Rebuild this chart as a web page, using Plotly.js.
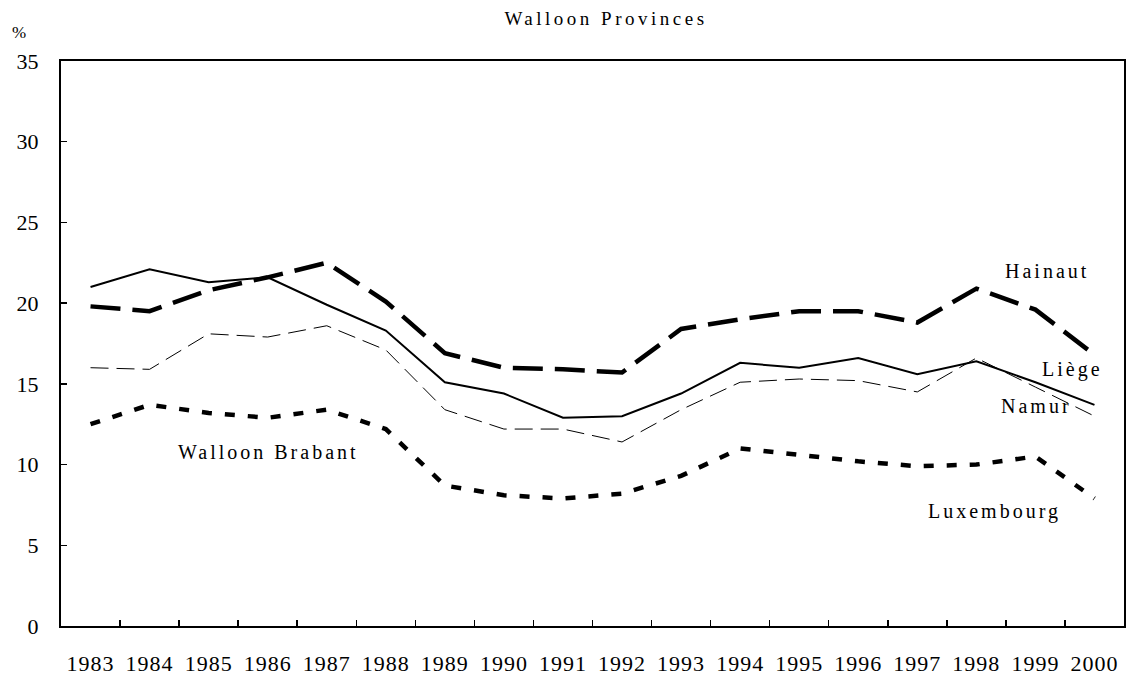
<!DOCTYPE html>
<html>
<head>
<meta charset="utf-8">
<script src="https://cdn.plot.ly/plotly-3.0.1.min.js"></script>
<style>
  html, body { margin: 0; padding: 0; background: #fff; }
  #chart { width: 1129px; height: 677px; }
  .annotation-text { letter-spacing: 3px; }
  .gtitle { letter-spacing: 3.5px; }
  .xtick text { letter-spacing: 1px; }
</style>
</head>
<body>
<div id="chart"></div>
<script>
const years = ['1983','1984','1985','1986','1987','1988','1989','1990','1991','1992','1993','1994','1995','1996','1997','1998','1999','2000'];
const hainaut = [19.8,19.5,20.8,21.6,22.5,20.1,16.9,16.0,15.9,15.7,18.4,19.0,19.5,19.5,18.8,20.9,19.6,16.8];
const liege   = [21.0,22.1,21.3,21.6,19.9,18.3,15.1,14.4,12.9,13.0,14.4,16.3,16.0,16.6,15.6,16.4,15.1,13.7];
const namur   = [16.0,15.9,18.1,17.9,18.6,17.1,13.4,12.2,12.2,11.4,13.4,15.1,15.3,15.2,14.5,16.6,14.8,13.0];
const brabantLux = [12.5,13.7,13.2,12.9,13.4,12.2,8.7,8.1,7.9,8.2,9.3,11.0,10.6,10.2,9.9,10.0,10.5,7.9];
const yTicks = [0,5,10,15,20,25,30,35];

const font = '"Liberation Serif", "Times New Roman", serif';

const traces = [
  {x: years, y: hainaut, name: 'Hainaut', mode: 'lines', line: {color: '#000', width: 4.5, dash: '30px,12px'}},
  {x: years, y: liege, name: 'Liège', mode: 'lines', line: {color: '#000', width: 2}},
  {x: years, y: namur, name: 'Namur', mode: 'lines', line: {color: '#000', width: 1, dash: '18px,8px'}},
  {x: years, y: brabantLux, name: 'Walloon Brabant / Luxembourg', mode: 'lines', line: {color: '#000', width: 4.5, dash: '10px,13px'}}
];

function px2paper(px) { return (px - 61) / (1124 - 61); }

const annFont = {family: font, size: 20, color: '#000'};

const layout = {
  width: 1129, height: 677,
  margin: {l: 61, r: 5, t: 61, b: 51},
  paper_bgcolor: '#fff', plot_bgcolor: '#fff',
  showlegend: false,
  font: {family: font, color: '#000', size: 20},
  title: {text: 'Walloon Provinces', font: {family: font, size: 19, color: '#000'},
          xref: 'paper', x: px2paper(606), xanchor: 'center',
          yref: 'container', y: 1 - 18/677, yanchor: 'middle'},
  xaxis: {
    type: 'category', range: [-0.5, 17.5],
    showline: true, linecolor: '#000', linewidth: 2, mirror: true,
    ticks: 'inside', ticklen: 6, tickwidth: 1.5, tickcolor: '#000',
    tickson: 'boundaries', showgrid: false, zeroline: false,
    tickfont: {family: font, size: 22, color: '#000'},
    ticklabelstandoff: 17, fixedrange: true
  },
  yaxis: {
    range: [0, 35], tickvals: yTicks, ticktext: yTicks.map(String),
    showline: true, linecolor: '#000', linewidth: 2, mirror: true,
    ticks: 'inside', ticklen: 6, tickwidth: 1.5, tickcolor: '#000',
    showgrid: false, zeroline: false,
    tickfont: {family: font, size: 22, color: '#000'},
    ticklabelstandoff: 16, fixedrange: true
  },
  annotations: [
    {text: '%', xref: 'paper', yref: 'paper', x: px2paper(20), y: (626-32)/(626-61), showarrow: false,
     font: {family: font, size: 17, color: '#000'}, xanchor: 'center', yanchor: 'middle'},
    {text: 'Hainaut', xref: 'paper', yref: 'y', x: px2paper(1047), y: 22.0, showarrow: false,
     font: annFont, xanchor: 'center', yanchor: 'middle'},
    {text: 'Liège', xref: 'paper', yref: 'y', x: px2paper(1072), y: 15.9, showarrow: false,
     font: annFont, xanchor: 'center', yanchor: 'middle'},
    {text: 'Namur', xref: 'paper', yref: 'y', x: px2paper(1036), y: 13.6, showarrow: false,
     font: annFont, xanchor: 'center', yanchor: 'middle'},
    {text: 'Walloon Brabant', xref: 'paper', yref: 'y', x: px2paper(268), y: 10.75, showarrow: false,
     font: annFont, xanchor: 'center', yanchor: 'middle'},
    {text: 'Luxembourg', xref: 'paper', yref: 'y', x: px2paper(994), y: 7.1, showarrow: false,
     font: annFont, xanchor: 'center', yanchor: 'middle'}
  ]
};

Plotly.newPlot('chart', traces, layout, {staticPlot: true, displayModeBar: false});
</script>
</body>
</html>
